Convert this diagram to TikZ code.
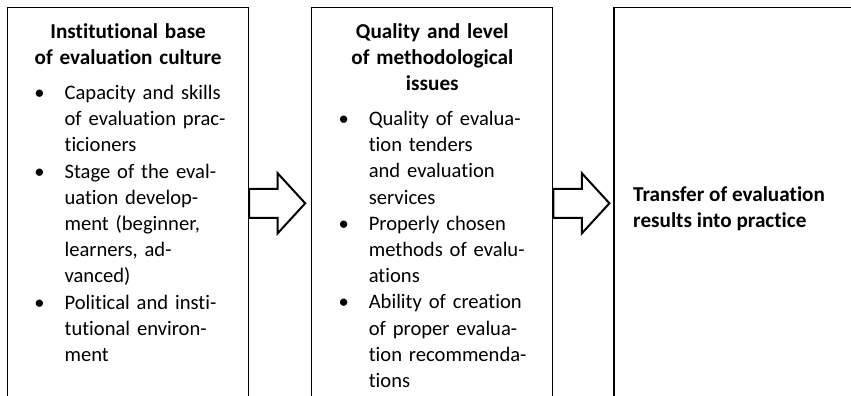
\documentclass[tikz,border=0pt]{standalone}
\usepackage{fontspec}
\setmainfont[Ligatures=NoCommon]{Carlito}
\usepackage{enumitem}
\usetikzlibrary{positioning}

\setlength{\parindent}{0pt}
\setlist[itemize]{label=\textbullet, leftmargin=28.5pt, labelsep=10pt,
  topsep=0pt, partopsep=0pt, itemsep=0pt, parsep=0pt}
\newcommand{\boxtitle}[1]{{\centering\bfseries\fontsize{10.6}{13}\selectfont #1\par}\vspace{4.3pt}}

\begin{document}
\begin{tikzpicture}[x=0.5pt, y=-0.5pt,
    font=\fontsize{10.3}{13.1}\selectfont,
    frame/.style = {draw, line width=0.6pt, inner sep=0pt, minimum width=120.5pt, minimum height=205pt},
    content/.style = {anchor=north, inner sep=0pt, text width=120.5pt},
    bigarrow/.pic = {
        \draw[line width=1pt, fill=white] (0,-14.5) -- (28.5,-14.5) -- (28.5,-30) -- (56,0)
            -- (28.5,30) -- (28.5,14.5) -- (0,14.5) -- cycle;
    }]
    \useasboundingbox (0,0) rectangle (851,396);
    \clip (0,0) rectangle (851,396);

    % the three stages
    \node[frame, anchor=north west] (base) at (7,6.5) {};
    \node[frame] (quality) [right=31pt of base] {};
    \node[frame, minimum width=130pt] (transfer) [right=30pt of quality] {};

    % arrows between the stages
    \pic at ([yshift=4.4pt]base.east) {bigarrow};
    \pic at ([yshift=4.4pt]quality.east) {bigarrow};

    \node[content] (basetext) at ([yshift=-8.5pt]base.north) {
        \boxtitle{Institutional base\\ of evaluation culture}
        \begin{itemize}
            \item Capacity and skills\newline of evaluation prac-\newline ticioners
            \item Stage of the eval-\newline uation develop-\newline ment (beginner,\newline learners, ad-\newline vanced)
            \item Political and insti-\newline tutional environ-\newline ment
        \end{itemize}};
    \node[content] (qualitytext) at ([yshift=-8.5pt]quality.north) {
        \boxtitle{Quality and level\\ of methodological\\ issues}
        \begin{itemize}
            \item Quality of evalua-\newline tion tenders\newline and evaluation\newline services
            \item Properly chosen\newline methods of evalu-\newline ations
            \item Ability of creation\newline of proper evalua-\newline tion recommenda-\newline tions
        \end{itemize}};
    \node[anchor=west, inner sep=0pt, align=left, font=\fontsize{10.6}{13}\selectfont\bfseries] (transfertext)
        at ([xshift=9.7pt, yshift=1.9pt]transfer.west) {Transfer of evaluation\\ results into practice};
\end{tikzpicture}
\end{document}
